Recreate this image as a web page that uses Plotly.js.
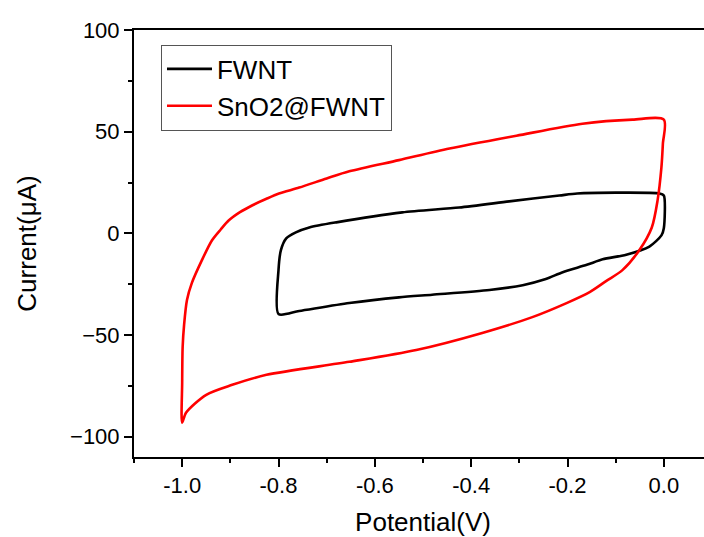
<!DOCTYPE html>
<html>
<head>
<meta charset="utf-8">
<script src="https://cdn.plot.ly/plotly-3.0.1.min.js"></script>
<style>
html,body{margin:0;padding:0;overflow:hidden;background:#fff;}
#chart{width:712px;height:537px;}
</style>
</head>
<body>
<div id="chart"></div>
<script>
// FWNT cyclic voltammogram (Potential V, Current µA)
const fwntV = [-0.800, -0.757, -0.653, -0.550, -0.481, -0.362, -0.293, -0.245, -0.210, -0.160, -0.127, -0.078, -0.030, -0.005, 0.000, 0.000,
               -0.009, -0.100, -0.180, -0.217, -0.321, -0.425, -0.543, -0.680, -0.736, -0.764, -0.784, -0.795, -0.800, -0.800];
const fwntI = [-39.7, -38.2, -34.3, -31.5, -30.2, -27.9, -25.5, -22.5, -19.1, -15.5, -12.8, -10.5, -6.5, -1.0, 2.5, 18.6,
               19.6, 20.0, 19.6, 18.6, 15.7, 12.7, 10.3, 5.4, 2.9, 0.5, -2.5, -8.3, -18.1, -39.7];

// SnO2@FWNT cyclic voltammogram
const snoV = [0.000, -0.002, -0.005, -0.013, -0.025, -0.051, -0.086, -0.120, -0.154, -0.202, -0.273, -0.377, -0.514, -0.653, -0.825, -0.896, -0.950, -0.992, -1.000,
              -1.000, -0.999, -0.996, -0.990, -0.980, -0.959, -0.938, -0.920, -0.903, -0.880, -0.855, -0.825, -0.799, -0.757, -0.700, -0.653, -0.550, -0.445, -0.306, -0.169, -0.065, 0.000];
const snoI = [55.9, 44.0, 32.4, 16.2, 2.9, -8.3, -18.1, -23.5, -28.9, -34.3, -41.2, -49.0, -57.4, -63.2, -69.6, -74.5, -79.4, -88.2, -93.1,
              -73.5, -55.9, -45.0, -32.8, -24.5, -13.2, -3.4, 1.9, 6.4, 10.4, 13.7, 17.0, 19.6, 22.5, 27.0, 30.5, 36.0, 41.7, 48.0, 53.9, 55.9, 55.9];

const seriesNames = ['FWNT', 'SnO2@FWNT'];
const xTickVals = [-1.0, -0.8, -0.6, -0.4, -0.2, 0.0];
const xTickText = ['-1.0', '-0.8', '-0.6', '-0.4', '-0.2', '0.0'];
const yTickVals = [-100, -50, 0, 50, 100];

const font = 'Liberation Sans, Arial, sans-serif';

const traces = [
  {x: fwntV, y: fwntI, name: seriesNames[0], mode: 'lines', line: {color: '#000000', width: 2.6, shape: 'spline', smoothing: 0.7}},
  {x: snoV, y: snoI, name: seriesNames[1], mode: 'lines', line: {color: '#ff0000', width: 2.6, shape: 'spline', smoothing: 0.8}}
];

const layout = {
  width: 712, height: 537,
  margin: {l: 134, r: 0, t: 30, b: 80},
  paper_bgcolor: '#fff', plot_bgcolor: '#fff',
  showlegend: true,
  font: {family: font, color: '#000'},
  xaxis: {
    range: [-1.1, 0.1],
    tickvals: xTickVals, ticktext: xTickText,
    ticks: 'outside', ticklen: 8, tickwidth: 2, tickcolor: '#000',
    minor: {dtick: 0.1, tick0: 0, ticks: 'outside', ticklen: 4, tickwidth: 2, tickcolor: '#000', showgrid: false},
    showline: true, linecolor: '#000', linewidth: 2, mirror: true,
    showgrid: false, zeroline: false,
    tickfont: {size: 22, family: font, color: '#000'},
    title: {text: 'Potential(V)', font: {size: 26, family: font, color: '#000'}, standoff: 18}
  },
  yaxis: {
    range: [-110, 100],
    tickvals: yTickVals,
    ticks: 'outside', ticklen: 8, tickwidth: 2, tickcolor: '#000',
    minor: {dtick: 25, tick0: 0, ticks: 'outside', ticklen: 4, tickwidth: 2, tickcolor: '#000', showgrid: false},
    showline: true, linecolor: '#000', linewidth: 2, mirror: true,
    showgrid: false, zeroline: false,
    tickfont: {size: 22, family: font, color: '#000'},
    title: {text: 'Current(μA)', font: {size: 26, family: font, color: '#000'}, standoff: 26}
  },
  legend: {
    x: 0.0467, y: 0.966, xanchor: 'left', yanchor: 'top',
    bgcolor: '#fff', bordercolor: '#555', borderwidth: 1,
    font: {size: 26, family: font, color: '#000'},
    itemwidth: 45, tracegroupgap: 0
  }
};

Plotly.newPlot('chart', traces, layout, {displayModeBar: false, staticPlot: true});
</script>
</body>
</html>
